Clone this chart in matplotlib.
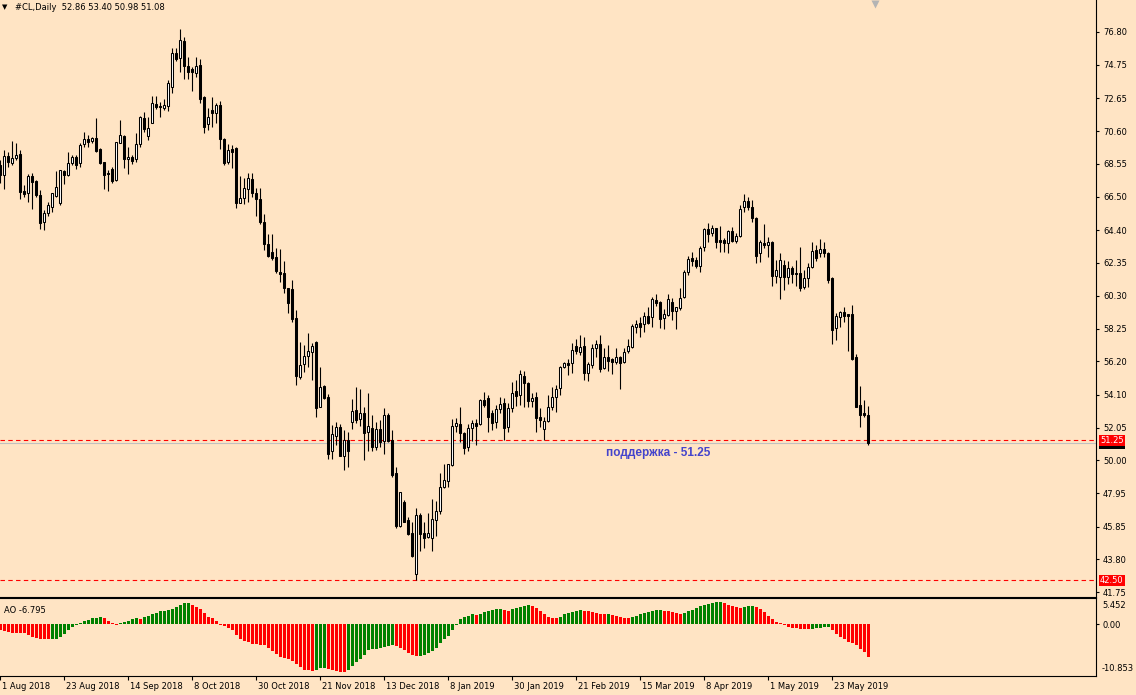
import numpy as np
import matplotlib.pyplot as plt
import matplotlib.transforms as mtransforms

# daily candles, first bar = 1 Aug 2018
opens = [68.48, 67.87, 69.04, 68.62, 68.94, 69.17, 66.87, 66.75, 67.79, 67.48,
         66.60, 64.93, 65.50, 65.87, 66.54, 66.12, 68.12, 67.87, 68.58, 68.96,
         68.58, 69.77, 70.08, 69.96, 70.15, 69.48, 68.64, 68.00, 68.21, 67.54,
         69.88, 70.29, 68.83, 68.96, 68.83, 69.77, 71.40, 70.27, 71.13, 72.29,
         72.17, 72.02, 72.17, 73.34, 75.46, 75.15, 76.21, 74.69, 74.46, 74.21,
         74.73, 72.71, 71.02, 71.92, 71.71, 72.23, 70.08, 68.69, 69.48, 69.56,
         66.12, 66.39, 66.96, 67.58, 66.71, 66.33, 64.89, 63.52, 63.02, 62.70,
         61.81, 61.70, 60.76, 60.70, 58.89, 55.24, 56.01, 56.55, 56.76, 57.43,
         53.36, 54.65, 53.99, 50.61, 51.55, 52.11, 50.30, 51.28, 52.42, 53.15,
         52.57, 52.99, 51.75, 52.00, 50.86, 51.94, 51.21, 52.84, 51.28, 49.19,
         45.89, 47.42, 46.27, 45.44, 42.87, 46.58, 45.48, 45.19, 45.12, 46.25,
         46.86, 48.32, 48.73, 49.71, 52.17, 52.26, 51.73, 50.82, 52.01, 52.32,
         52.26, 53.78, 53.88, 52.94, 52.42, 53.20, 53.61, 52.11, 53.26, 54.34,
         54.09, 55.30, 54.82, 53.74, 53.95, 52.69, 51.94, 52.49, 53.36, 53.95,
         54.51, 55.82, 56.07, 56.07, 57.16, 56.80, 57.16, 55.45, 55.95, 57.01,
         57.26, 55.80, 56.45, 56.32, 56.18, 56.45, 56.18, 56.86, 57.11, 58.37,
         58.57, 58.53, 59.03, 58.95, 60.03, 59.89, 58.89, 59.10, 59.93, 59.35,
         59.51, 60.24, 61.81, 62.64, 62.54, 62.16, 63.33, 64.45, 64.25, 64.52,
         63.79, 63.79, 63.58, 64.35, 63.75, 64.04, 65.83, 66.23, 65.83, 65.18,
         62.95, 63.62, 63.47, 63.68, 61.56, 61.45, 62.22, 61.45, 62.01, 61.70,
         61.70, 60.87, 61.39, 62.12, 63.16, 62.95, 63.20, 62.99, 61.39, 58.26,
         58.95, 59.26, 59.14, 59.14, 56.45, 53.47, 52.94, 52.86]
highs = [68.79, 69.42, 69.31, 69.96, 69.87, 69.42, 67.23, 67.91, 67.96, 67.54,
         66.91, 65.66, 66.18, 66.75, 68.12, 68.17, 68.17, 69.31, 69.10, 69.10,
         69.83, 70.52, 70.35, 70.25, 71.40, 69.52, 68.69, 68.17, 68.37, 69.94,
         71.29, 70.35, 69.62, 69.10, 70.46, 71.54, 71.81, 71.50, 72.80, 72.80,
         72.44, 72.59, 73.80, 75.78, 75.78, 76.96, 76.46, 75.21, 74.59, 75.26,
         75.09, 72.80, 72.02, 72.71, 72.34, 72.48, 70.15, 69.79, 69.73, 69.63,
         67.79, 67.64, 67.96, 67.96, 67.02, 67.02, 65.39, 64.14, 64.14, 63.30,
         63.22, 62.47, 60.76, 61.28, 59.41, 57.43, 57.22, 57.95, 57.32, 57.47,
         55.86, 54.72, 54.15, 52.21, 52.42, 52.26, 51.90, 51.80, 53.84, 54.61,
         54.45, 53.36, 54.20, 52.84, 52.38, 52.53, 53.26, 52.95, 51.90, 49.57,
         48.04, 47.52, 46.44, 46.17, 47.00, 46.69, 46.17, 46.69, 47.60, 47.45,
         49.19, 49.76, 49.78, 52.57, 52.63, 53.32, 51.80, 52.28, 52.53, 52.57,
         53.82, 54.30, 54.09, 53.15, 53.47, 53.95, 53.88, 53.61, 54.92, 55.03,
         55.65, 55.59, 54.88, 54.20, 54.26, 53.26, 52.69, 54.09, 54.61, 54.72,
         55.91, 56.18, 56.32, 57.32, 57.57, 57.84, 57.74, 56.18, 57.30, 57.55,
         57.84, 57.01, 57.22, 56.39, 57.01, 56.53, 57.01, 57.57, 58.53, 58.78,
         58.95, 59.30, 59.62, 60.20, 60.41, 59.99, 59.45, 60.39, 60.14, 59.62,
         60.76, 61.91, 62.79, 63.06, 62.74, 63.41, 64.52, 64.87, 64.73, 64.56,
         64.66, 63.89, 64.41, 64.62, 64.20, 65.98, 66.66, 66.50, 66.29, 65.25,
         63.79, 64.79, 63.99, 63.72, 62.54, 62.95, 62.54, 62.47, 62.16, 62.54,
         63.37, 61.91, 62.37, 63.64, 63.47, 63.83, 63.68, 63.06, 61.49, 59.20,
         59.35, 59.62, 59.16, 59.72, 56.66, 54.65, 53.78, 53.40]
lows = [67.33, 66.96, 68.37, 68.48, 68.79, 66.33, 66.50, 66.14, 65.75, 66.50,
        64.50, 64.41, 65.31, 65.56, 66.46, 65.98, 67.29, 67.79, 68.48, 68.23,
        68.37, 69.62, 69.62, 69.83, 69.31, 68.54, 66.98, 66.87, 67.37, 67.48,
        69.83, 68.27, 67.91, 68.54, 68.69, 69.62, 70.56, 70.02, 71.09, 71.96,
        71.50, 71.92, 71.88, 72.96, 75.00, 74.32, 73.86, 73.86, 73.13, 74.00,
        72.38, 70.50, 70.67, 70.88, 71.09, 69.46, 68.48, 68.54, 68.27, 65.77,
        66.08, 66.02, 66.19, 66.50, 65.29, 64.79, 63.16, 62.70, 62.54, 61.75,
        61.18, 60.45, 59.24, 58.68, 54.72, 55.09, 55.55, 55.86, 55.03, 52.74,
        53.32, 53.84, 50.07, 50.07, 50.96, 50.25, 49.40, 49.61, 51.96, 52.36,
        52.15, 50.02, 50.61, 50.59, 50.65, 50.86, 50.38, 51.17, 48.98, 45.79,
        45.85, 46.12, 45.33, 43.94, 42.52, 44.35, 44.50, 45.12, 44.35, 45.30,
        46.65, 48.27, 48.32, 49.65, 51.76, 51.17, 50.38, 50.61, 51.21, 50.96,
        52.21, 53.32, 51.80, 51.90, 52.05, 52.99, 51.28, 51.80, 53.05, 53.40,
        53.47, 53.36, 53.36, 53.32, 51.80, 52.07, 51.28, 52.42, 53.15, 53.05,
        54.09, 55.76, 55.34, 55.45, 56.66, 56.59, 55.03, 54.99, 55.80, 56.44,
        55.55, 55.70, 55.61, 55.40, 56.03, 54.47, 56.07, 56.74, 57.01, 57.99,
        57.74, 58.05, 58.53, 58.32, 59.66, 58.30, 58.20, 59.05, 58.78, 58.20,
        59.41, 60.14, 61.60, 62.16, 62.01, 61.81, 63.12, 63.68, 64.04, 63.31,
        63.06, 63.06, 62.99, 63.68, 63.62, 64.00, 65.56, 65.66, 64.91, 62.33,
        62.43, 63.27, 62.74, 60.93, 61.08, 60.08, 60.66, 61.04, 61.08, 60.91,
        60.62, 60.70, 60.83, 62.01, 62.47, 62.70, 62.74, 61.08, 57.28, 57.53,
        58.37, 58.64, 56.86, 56.28, 53.32, 52.11, 52.70, 50.98]
closes = [67.85, 69.04, 68.69, 68.89, 69.10, 66.81, 66.68, 67.79, 67.44, 66.60,
          64.87, 65.50, 65.95, 66.71, 67.08, 68.14, 67.87, 68.58, 68.96, 68.50,
          69.73, 70.08, 69.90, 70.15, 69.37, 68.62, 67.87, 67.89, 67.48, 69.90,
          70.33, 68.83, 69.00, 68.75, 69.77, 71.46, 70.71, 70.77, 72.34, 72.09,
          72.09, 72.23, 73.59, 75.46, 75.09, 76.30, 74.69, 74.32, 74.28, 74.69,
          72.61, 70.88, 71.50, 71.75, 72.23, 70.08, 68.62, 69.42, 69.27, 66.12,
          66.39, 67.02, 67.65, 66.71, 66.35, 64.89, 63.52, 62.81, 62.68, 61.85,
          61.64, 60.76, 59.83, 58.82, 55.28, 55.97, 56.53, 56.84, 57.15, 53.30,
          54.61, 53.88, 50.38, 51.65, 52.11, 50.30, 51.28, 50.61, 53.09, 52.53,
          52.99, 51.69, 52.15, 50.86, 51.94, 51.17, 52.84, 51.21, 49.09, 45.89,
          48.00, 46.17, 45.37, 44.02, 46.58, 45.37, 45.12, 45.48, 46.32, 46.83,
          48.32, 48.77, 49.76, 52.17, 52.32, 51.69, 50.76, 52.01, 52.32, 52.17,
          53.78, 53.47, 52.74, 52.36, 53.22, 53.53, 52.05, 53.26, 54.19, 54.03,
          55.38, 54.82, 53.72, 53.88, 52.63, 52.53, 52.47, 53.32, 53.95, 54.45,
          55.82, 56.07, 55.97, 56.91, 56.86, 57.07, 55.45, 56.03, 57.01, 57.27,
          55.72, 56.45, 56.24, 56.18, 56.45, 56.07, 56.76, 57.16, 58.43, 58.53,
          58.37, 59.03, 58.57, 60.10, 59.87, 58.82, 59.16, 60.10, 59.37, 59.58,
          60.14, 61.81, 62.58, 62.47, 62.18, 63.27, 64.45, 64.16, 64.52, 63.68,
          63.66, 63.58, 64.35, 63.75, 64.04, 65.70, 66.23, 65.83, 65.14, 62.81,
          63.68, 63.47, 63.68, 61.56, 61.91, 62.54, 61.45, 62.01, 61.66, 61.64,
          60.81, 61.39, 62.12, 63.12, 62.68, 63.20, 62.99, 61.28, 58.16, 59.03,
          59.26, 59.05, 59.05, 56.34, 53.36, 52.84, 52.84, 51.08]

# Awesome Oscillator, one value per candle
ao = [-1.23, -1.37, -1.72, -1.78, -1.80, -1.82, -1.92, -2.20, -2.61, -2.88,
      -3.16, -3.18, -3.20, -3.09, -3.02, -2.74, -2.13, -1.23, -0.55, -0.21,
      0.27, 0.62, 0.89, 1.17, 1.37, 1.44, 1.17, 0.62, 0.27, -0.14,
      0.21, 0.41, 0.69, 0.96, 1.17, 1.10, 1.44, 1.72, 2.20, 2.40,
      2.68, 2.81, 3.02, 3.22, 3.50, 3.91, 4.32, 4.39, 4.05, 3.64,
      3.09, 2.40, 1.58, 1.17, 0.62, -0.14, -0.48, -0.75, -1.30, -2.26,
      -3.02, -3.64, -3.84, -4.12, -4.18, -4.32, -4.46, -5.01, -5.69, -6.17,
      -6.86, -7.07, -7.27, -7.75, -8.44, -8.92, -9.67, -9.70, -9.81, -9.60,
      -9.26, -9.12, -9.40, -9.67, -9.88, -9.95, -10.02, -9.67, -8.78, -8.03,
      -7.20, -6.38, -5.49, -5.28, -5.15, -5.08, -4.73, -4.53, -4.32, -4.66,
      -5.01, -5.42, -6.04, -6.52, -6.72, -6.59, -6.38, -6.11, -5.60, -5.00,
      -4.05, -3.22, -2.40, -1.17, -0.14, 1.03, 1.44, 1.78, 2.06, 1.85,
      2.10, 2.47, 2.68, 2.88, 3.09, 3.16, 2.88, 2.81, 3.09, 3.29,
      3.50, 3.70, 3.91, 3.70, 3.29, 2.68, 2.06, 1.44, 1.23, 1.17,
      1.44, 2.06, 2.26, 2.47, 2.68, 2.88, 2.81, 2.68, 2.47, 2.26,
      2.13, 2.06, 2.13, 1.85, 1.65, 1.44, 1.30, 1.23, 1.44, 1.65,
      2.06, 2.26, 2.47, 2.68, 2.88, 2.95, 2.68, 2.64, 2.61, 2.26,
      2.06, 2.26, 2.68, 2.88, 3.29, 3.70, 3.91, 4.12, 4.32, 4.53,
      4.60, 4.32, 3.91, 3.70, 3.50, 3.29, 3.64, 3.70, 3.77, 3.50,
      3.09, 2.47, 1.65, 1.03, 0.48, 0.21, -0.27, -0.69, -0.82, -0.89,
      -0.96, -1.03, -1.10, -0.96, -0.89, -0.75, -0.62, -0.55, -1.17, -1.99,
      -2.61, -3.22, -3.84, -4.05, -4.46, -5.15, -5.90, -6.795]

date_labels = ['1 Aug 2018', '23 Aug 2018', '14 Sep 2018', '8 Oct 2018', '30 Oct 2018',
               '21 Nov 2018', '13 Dec 2018', '8 Jan 2019', '30 Jan 2019', '21 Feb 2019',
               '15 Mar 2019', '8 Apr 2019', '1 May 2019', '23 May 2019']
price_ticks = [76.80, 74.75, 72.65, 70.60, 68.55, 66.50, 64.40, 62.35, 60.30,
               58.25, 56.20, 54.10, 52.05, 50.00, 47.95, 45.85, 43.80, 41.75]
ao_max, ao_min = 5.452, -10.853
support = 51.25
low_level = 42.50

bg = '#ffe4c4'
W, H = 1136, 695
plt.rcParams['font.family'] = 'DejaVu Sans'
plt.rcParams['font.size'] = 6

fig = plt.figure(figsize=(W / 100, H / 100), dpi=100)
fig.patch.set_facecolor(bg)


def box(x0, y0, x1, y1):
    return [x0 / W, 1 - y1 / H, (x1 - x0) / W, (y1 - y0) / H]


ax = fig.add_axes(box(0, 0, 1096, 596.5))
ax2 = fig.add_axes(box(0, 598, 1096, 676), sharex=ax)
for a in (ax, ax2):
    a.set_facecolor(bg)
    a.spines['left'].set_visible(False)
    for s in ('right', 'bottom', 'top'):
        a.spines[s].set_linewidth(0.8)
ax.spines['top'].set_visible(False)

o = np.array(opens)
h = np.array(highs)
l = np.array(lows)
c = np.array(closes)
x = np.arange(len(c))
up = c >= o

# candles
ax.vlines(x, l, h, color='black', lw=0.8, zorder=3)
body_lo = np.minimum(o, c)
body_h = np.maximum(np.abs(c - o), 0.03)
ax.bar(x, body_h, bottom=body_lo, width=0.5,
       color=np.where(up, 'white', 'black'), edgecolor='black', linewidth=0.75, zorder=4)

# levels
ax.axhline(c[-1], color='#c0c0c0', lw=0.8, zorder=1)
for lev in (support, low_level):
    ax.axhline(lev, color='red', lw=0.8, ls=(0, (4, 3)), zorder=2)

ax.set_xlim(-0.05, 273.95)
ax.set_ylim(41.485, 78.80)
ax.yaxis.tick_right()
ax.set_yticks(price_ticks)
ax.set_yticklabels(['%.2f' % v for v in price_ticks])
ax.tick_params(axis='y', length=2.5, width=0.8, pad=2.5, labelsize=6)
ax.tick_params(axis='x', bottom=False, labelbottom=False)

# price labels on the scale
lab_kw = dict(xycoords=('axes fraction', 'data'), xytext=(4, 0), textcoords='offset pixels',
              va='center', ha='left', fontsize=6, color='white', annotation_clip=False)
ax.annotate('%.2f' % c[-1], xy=(1, c[-1]),
            bbox=dict(boxstyle='square,pad=0.12', fc='black', ec='none'), **lab_kw)
for lev in (support, low_level):
    ax.annotate('%.2f' % lev, xy=(1, lev),
                bbox=dict(boxstyle='square,pad=0.12', fc='red', ec='none'), **lab_kw)

ax.text(151.4, 50.48, 'поддержка - %.2f' % support, color='#4444cc', fontsize=8.5,
        fontweight='bold', family='Liberation Sans', va='center', ha='left')

# chart shift marker
ax.plot([len(c) + 0.7], [78.55], marker='v', color='#b4b4b4', ms=6, mec='none', clip_on=False)

fig.text(2 / W, 1 - 7 / H, '▼', fontsize=5, va='center', ha='left')
fig.text(15 / W, 1 - 7 / H, '#CL,Daily  %.2f %.2f %.2f %.2f' % (o[-1], h[-1], l[-1], c[-1]),
         fontsize=6, va='center', ha='left')

# AO histogram
a_arr = np.array(ao)
colors = []
prev = 'red'
for i, v in enumerate(a_arr):
    if i > 0 and v > a_arr[i - 1]:
        prev = 'green'
    elif i > 0 and v < a_arr[i - 1]:
        prev = 'red'
    colors.append('#008000' if prev == 'green' else '#ff0000')
ax2.bar(x, a_arr, width=0.72, color=colors, linewidth=0)
ax2.set_ylim(ao_min, ao_max)
ax2.yaxis.tick_right()
ax2.set_yticks([0])
ax2.set_yticklabels(['0.00'])
ax2.tick_params(axis='y', length=2.5, width=0.8, pad=2.5, labelsize=6)
ax2.annotate('%.3f' % ao_max, xy=(1, 1), xycoords='axes fraction', xytext=(6, -3),
             textcoords='offset pixels', va='top', ha='left', fontsize=6)
ax2.annotate('%.3f' % ao_min, xy=(1, 0), xycoords='axes fraction', xytext=(6, 3),
             textcoords='offset pixels', va='bottom', ha='left', fontsize=6)
ax2.text(4 / 1096, 0.84, 'AO %.3f' % a_arr[-1], transform=ax2.transAxes, fontsize=6,
         va='center', ha='left')

ax2.set_xticks(np.arange(0, len(c), 16))
ax2.set_xticklabels(date_labels, ha='left')
ax2.tick_params(axis='x', length=3, width=0.8, pad=1.5, labelsize=6)
shift = mtransforms.ScaledTranslation(2 / 100, 0, fig.dpi_scale_trans)
for t in ax2.get_xticklabels():
    t.set_transform(t.get_transform() + shift)

fig.savefig('out.png', dpi=100, facecolor=bg)
